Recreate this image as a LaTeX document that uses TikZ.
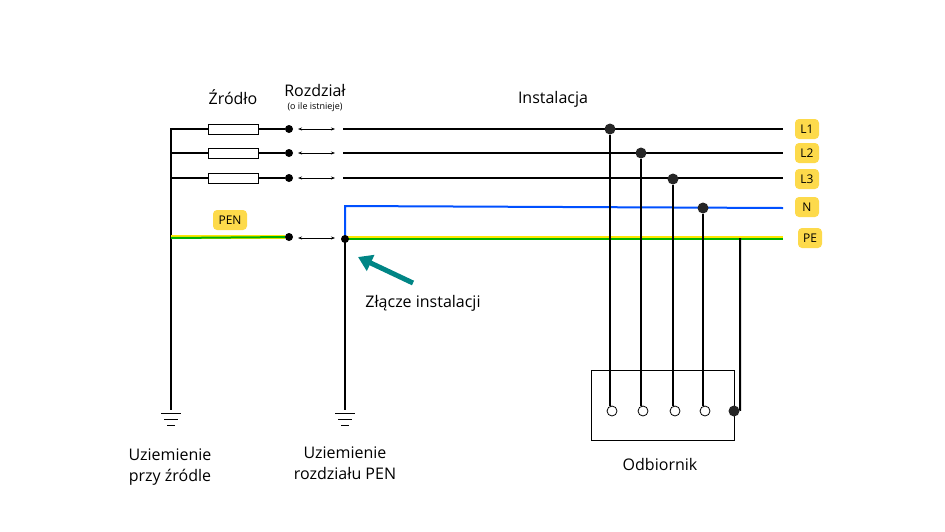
\documentclass[tikz,border=0pt]{standalone}
\usepackage{fontspec}
\setmainfont{Open Sans}
\usetikzlibrary{arrows.meta}
\begin{document}
\begin{tikzpicture}[x=1pt,y=-1pt,
 wire/.style={line width=2pt,black},
 dot/.style={circle,fill=black!85,inner sep=0,minimum size=11pt},
 sdot/.style={circle,fill=black,inner sep=0,minimum size=8pt},
 odot/.style={circle,draw,fill=white,inner sep=0,minimum size=10pt,line width=0.8pt},
 fuse/.style={draw,fill=white,minimum width=50pt,minimum height=10pt,inner sep=0,line width=0.8pt},
 tag/.style={fill=yellow!65!orange!70,rounded corners=4pt,font=\fontsize{12}{14}\selectfont,inner sep=3pt,minimum width=24pt,minimum height=20pt},
 dbl/.style={{Stealth[length=4pt,width=3pt]}-{Stealth[length=4pt,width=3pt]},line width=0.6pt},
 lbl/.style={font=\fontsize{16}{21}\selectfont,align=center}]
\useasboundingbox (0,0) rectangle (945,531);
\coordinate (top) at (171,128);
\coordinate (g1) at (171,410);
\foreach \n/\y in {1/129,2/153,3/178}{
  \coordinate (a\n) at (171,\y);
  \node[sdot] (d\n) at (289,\y) {};
  \coordinate (s\n) at (343,\y);
  \coordinate (e\n) at (783,\y);
  \coordinate (p\n) at (298,\y); \coordinate (q\n) at (335,\y);
  \draw[wire] (a\n) -- (d\n);
  \node[fuse] (f\n) at (233,\y) {};
  \draw[dbl] (p\n) -- (q\n);
  \draw[wire] (s\n) -- (e\n);
}
\draw[wire] (top) -- (g1);
% PEN
\coordinate (pa) at (171,237);
\node[sdot] (dp) at (289,237) {};
\draw[line width=3.6pt,yellow!90!orange] (pa) -- (dp);
\draw[line width=2pt,green!70!black] ([yshift=-1pt]pa) -- ([yshift=-1pt]dp);
\coordinate (pp) at (298,238); \coordinate (pq) at (335,238);
\draw[dbl] (pp) -- (pq);
\coordinate (j) at (345,238);
\coordinate (pe) at (783,238);
\draw[line width=4pt,yellow!90!orange] (j) -- (pe);
\draw[line width=2pt,green!70!black] ([yshift=-1pt]j) -- ([yshift=-1pt]pe);
\coordinate (nb) at (345,206);
\coordinate (ne) at (783,208);
\draw[line width=2pt,blue!55!cyan!70!blue] (j) -- (nb) -- (ne);
\coordinate (g2) at (345,410);
\draw[wire] (j) -- (g2);
\node[sdot] (dj) at (345,239) {};
% grounds
\foreach \g in {g1,g2}{
  \draw[line width=1pt] ([xshift=-10pt,yshift=-3pt]\g) -- ([xshift=10pt,yshift=-3pt]\g);
  \draw[line width=1pt] ([xshift=-7pt,yshift=-9pt]\g) -- ([xshift=7pt,yshift=-9pt]\g);
  \draw[line width=1pt] ([xshift=-4pt,yshift=-15pt]\g) -- ([xshift=4pt,yshift=-15pt]\g);
}
% load
\node[draw,line width=0.9pt,minimum width=143pt,minimum height=70pt,inner sep=0] (box) at (662.5,405) {};
\foreach \x/\y/\n in {610/129/1,641/153/2,673/179/3,703/208/4}{
  \node[dot] (t\n) at (\x,\y) {};
  \node[odot] (o\n) at (\x+2,411) {};
  \draw[wire] (t\n) -- (\x,406);
}
\coordinate (pt) at (740,238);
\coordinate (pb) at (740,410);
\node[dot] (o5) at (734,411) {};
\draw[wire] (pt) -- (pb) -- (o5);
% tags
\node[tag] at (807,129) {L1};
\node[tag] at (807,153) {L2};
\node[tag] at (807,179) {L3};
\node[tag] at (807,207) {N};
\node[tag] at (810,238) {PE};
\node[tag,minimum width=34pt] at (230,220) {PEN};
% labels
\node[lbl] at (233,97) {Źródło};
\node[lbl] at (315,90) {Rozdział};
\node[font=\fontsize{9}{10}\selectfont] at (315,107) {(o ile istnieje)};
\node[lbl] at (553,99) {Instalacja};
\node[lbl] at (423,303) {Złącze instalacji};
\node[lbl] at (170,467) {Uziemienie\\przy źródle};
\node[lbl] at (345,463) {Uziemienie\\rozdziału PEN};
\node[lbl] at (660,464) {Odbiornik};
% teal arrow
\coordinate (ar1) at (413,283); \coordinate (ar2) at (358,257);
\draw[line width=5pt,teal!70!cyan!80!black,-{Triangle[length=14pt,width=17pt]}] (ar1) -- (ar2);
\end{tikzpicture}
\end{document}
